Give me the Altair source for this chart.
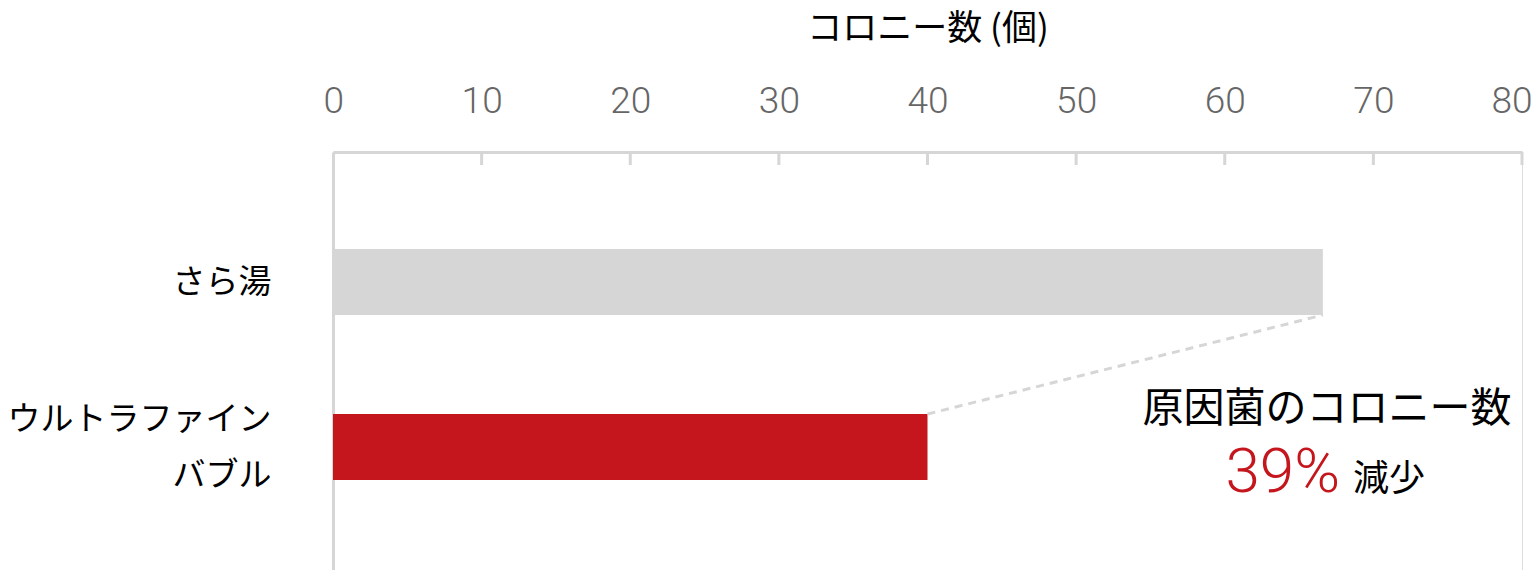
import json
import altair as alt
import pandas as pd

categories = ["さら湯", "ウルトラファイン\nバブル"]
values = [66.6, 40.0]
positions = [0, 1]
bar_colors = ["#d6d6d6", "#c4161c"]
tick_values = [0, 10, 20, 30, 40, 50, 60, 70, 80]
x_title = "コロニー数 (個)"
note_line1 = "原因菌のコロニー数"
note_pct = "39%"
note_word = "減少"

GRAY = "#d6d6d6"
CJK = "Noto Sans CJK JP"
LINE_H = 56

df = pd.DataFrame({"cat": categories, "value": values, "pos": positions, "color": bar_colors})
ticks_df = pd.DataFrame({"t": tick_values[1:]})
conn_df = pd.DataFrame({"x1": [values[1]], "x2": [values[0]],
                        "p1": [positions[1]], "p2": [positions[0]]})

x_scale = alt.Scale(domain=[0, 80], nice=False, zero=True)
y_scale = alt.Scale(domain=[-0.788, 1.745], reverse=True, nice=False, zero=False)

label_expr = "split(" + json.dumps(categories, ensure_ascii=False) + "[datum.value], '\\n')"

bars = alt.Chart(df).transform_calculate(
    y0="datum.pos - 0.2", y1="datum.pos + 0.2"
).mark_bar(cornerRadius=0).encode(
    x=alt.X("value:Q", scale=x_scale, axis=alt.Axis(
        orient="top", values=tick_values, title=x_title,
        titleFont=CJK, titleFontSize=35, titleFontWeight="normal", titleColor="#000",
        titlePadding=36,
        labelFont="Roboto", labelFontSize=37, labelFontWeight=300, labelColor="#666666",
        labelPadding=32, labelFlush=True, labelFlushOffset=10, labelOverlap=False,
        ticks=False, tickSize=0, grid=False,
        domainColor=GRAY, domainWidth=3)),
    x2=alt.value(0),
    y=alt.Y("y0:Q", scale=y_scale, axis=alt.Axis(
        orient="left", values=positions, title=None, labelExpr=label_expr,
        labelFont=CJK, labelFontSize=33, labelColor="#000", labelLineHeight=LINE_H,
        labelPadding=62, labelAlign="right", labelBaseline="middle", labelLimit=500,
        labelOffset={"condition": {"test": "datum.value == 1", "value": -LINE_H / 2}, "value": 0},
        labelOverlap=False, labelFlush=False,
        ticks=False, tickSize=0, grid=False, domainColor=GRAY, domainWidth=3)),
    y2="y1:Q",
    color=alt.Color("color:N", scale=None),
)

tick_rules = alt.Chart(ticks_df).mark_rule(color=GRAY, strokeWidth=3).encode(
    x=alt.X("t:Q", scale=x_scale),
    y=alt.value(0),
    y2=alt.value(13),
)

connector = alt.Chart(conn_df).transform_calculate(
    ya="datum.p1 - 0.2", yb="datum.p2 + 0.2"
).mark_rule(color=GRAY, strokeWidth=3, strokeDash=[8, 6]).encode(
    x=alt.X("x1:Q", scale=x_scale),
    x2="x2:Q",
    y=alt.Y("ya:Q", scale=y_scale),
    y2="yb:Q",
)

note1 = alt.Chart(pd.DataFrame({"t": [note_line1]})).mark_text(
    font=CJK, fontSize=41, color="#000", align="center", baseline="middle"
).encode(text="t:N", x=alt.value(994), y=alt.value(258))

note2 = alt.Chart(pd.DataFrame({"t": [note_pct]})).mark_text(
    font="Roboto", fontSize=62, fontWeight=300, color="#c4161c",
    align="right", baseline="alphabetic"
).encode(text="t:N", x=alt.value(1007), y=alt.value(340))

note3 = alt.Chart(pd.DataFrame({"t": [note_word]})).mark_text(
    font=CJK, fontSize=36, color="#000", align="left", baseline="alphabetic"
).encode(text="t:N", x=alt.value(1020), y=alt.value(339))

chart = alt.layer(bars, tick_rules, connector, note1, note2, note3).properties(
    width=1189, height=418,
    autosize=alt.AutoSizeParams(type="none"),
    padding={"left": 325, "top": 144, "right": 10, "bottom": 0},
).configure_view(stroke=None).configure(background="white")

chart.save("out.html", embed_options={"renderer": "svg", "actions": False})
